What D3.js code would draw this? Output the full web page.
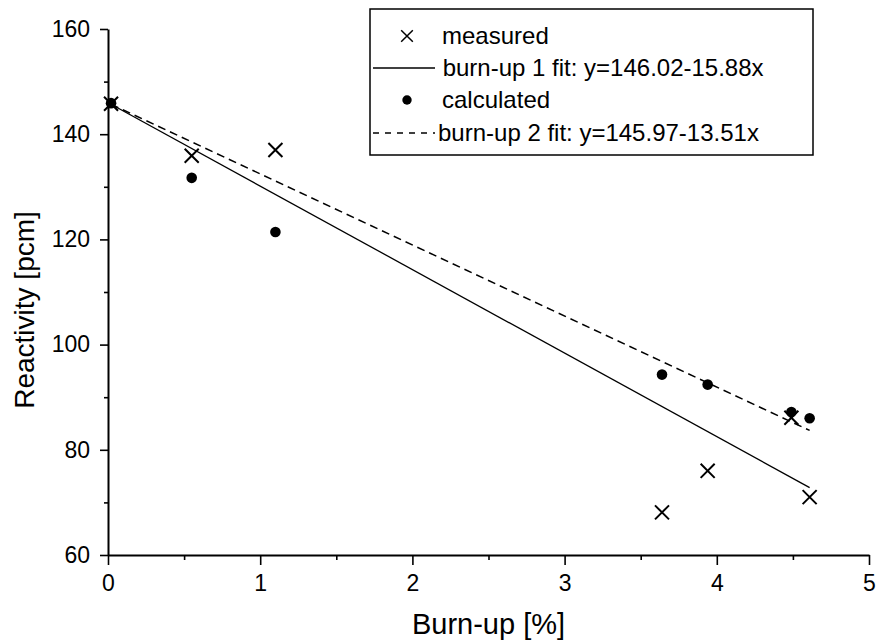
<!DOCTYPE html>
<html lang="en">
<head>
<meta charset="UTF-8">
<script src="https://d3js.org/d3.v7.min.js"></script>
<style>
  body { margin: 0; background: #fff; }
  text { font-family: "Liberation Sans", Arial, sans-serif; fill: #000; }
</style>
</head>
<body>
<div id="chart"></div>
<script>
// data
var burnup     = [0.02, 0.55, 1.10, 3.64, 3.94, 4.49, 4.61];
var measured   = [145.8, 135.9, 137.0, 68.1, 76.0, 86.1, 71.0];
var calculated = [145.9, 131.7, 121.4, 94.3, 92.4, 87.2, 86.0];

var xTicks = [0, 1, 2, 3, 4, 5];
var yTicks = [60, 80, 100, 120, 140, 160];

// fit lines: [intercept, slope]
var fit1 = [146.02, -15.88];
var fit2 = [145.97, -13.51];

var legendLabels = ["measured", " burn-up 1 fit: y=146.02-15.88x", "calculated", "burn-up 2 fit: y=145.97-13.51x"];

var W = 877, H = 643;
var margin = {top: 29, right: 8, bottom: 88, left: 108};
var width = 869 - margin.left,
    height = 555 - margin.top;

var svg = d3.select("#chart").append("svg")
  .attr("width", W).attr("height", H);

var g = svg.append("g")
  .attr("transform", "translate(" + margin.left + "," + margin.top + ")");

var x = d3.scaleLinear().domain([0, 5]).range([0, width]);
var y = d3.scaleLinear().domain([60, 160]).range([height, 0]);

// axes
var xAxis = g.append("g")
  .attr("transform", "translate(0," + height + ")")
  .call(d3.axisBottom(x).tickValues(xTicks).tickSize(10).tickPadding(10).tickSizeOuter(0).tickFormat(d3.format("d")));
var xMinor = g.append("g")
  .attr("transform", "translate(0," + height + ")")
  .call(d3.axisBottom(x).tickValues([0.5, 1.5, 2.5, 3.5, 4.5]).tickSize(5).tickSizeOuter(0).tickFormat(""));

var yAxis = g.append("g")
  .call(d3.axisLeft(y).tickValues(yTicks).tickSize(8).tickPadding(10).tickSizeOuter(0));
var yMinor = g.append("g")
  .call(d3.axisLeft(y).tickValues([70, 90, 110, 130, 150]).tickSize(4).tickSizeOuter(0).tickFormat(""));

[xAxis, xMinor, yAxis, yMinor].forEach(function(a) {
  a.select(".domain").attr("stroke", "#000").attr("stroke-width", 2);
  a.selectAll(".tick line").attr("stroke", "#000").attr("stroke-width", 1.6);
  a.selectAll("text").attr("font-size", "23px").attr("font-family", "Liberation Sans, Arial, sans-serif");
});
xMinor.select(".domain").remove();
yMinor.select(".domain").remove();

// axis titles
g.append("text")
  .attr("x", width / 2).attr("y", 634 - margin.top)
  .attr("text-anchor", "middle")
  .attr("font-size", "29px")
  .text("Burn-up [%]");

g.append("text")
  .attr("transform", "translate(" + (34 - margin.left) + "," + (310 - margin.top) + ") rotate(-90)")
  .attr("text-anchor", "middle")
  .attr("font-size", "28px")
  .text("Reactivity [pcm]");

// fit lines
function fitLine(f) {
  var x0 = d3.min(burnup), x1 = d3.max(burnup);
  return [[x0, f[0] + f[1] * x0], [x1, f[0] + f[1] * x1]];
}
var line = d3.line().x(function(d) { return x(d[0]); }).y(function(d) { return y(d[1]); });

g.append("path").datum(fitLine(fit1))
  .attr("d", line).attr("fill", "none").attr("stroke", "#000").attr("stroke-width", 1.3);
g.append("path").datum(fitLine(fit2))
  .attr("d", line).attr("fill", "none").attr("stroke", "#000").attr("stroke-width", 1.5)
  .attr("stroke-dasharray", "8,5");

// calculated points
g.selectAll(".calc")
  .data(burnup.map(function(b, i) { return [b, calculated[i]]; }))
  .enter().append("circle")
    .attr("class", "calc")
    .attr("cx", function(d) { return x(d[0]); })
    .attr("cy", function(d) { return y(d[1]); })
    .attr("r", 5.3)
    .attr("fill", "#000");

// measured points
var cross = d3.symbol().type(d3.symbolX).size(130);
g.selectAll(".meas")
  .data(burnup.map(function(b, i) { return [b, measured[i]]; }))
  .enter().append("path")
    .attr("class", "meas")
    .attr("transform", function(d) { return "translate(" + x(d[0]) + "," + y(d[1]) + ")"; })
    .attr("d", cross)
    .attr("fill", "none")
    .attr("stroke", "#000")
    .attr("stroke-width", 2);

// legend
var lg = svg.append("g");
lg.append("rect")
  .attr("x", 370).attr("y", 9).attr("width", 443).attr("height", 146)
  .attr("fill", "#fff").attr("stroke", "#000").attr("stroke-width", 1.5);

var rowY = [36, 68, 100, 133];
lg.append("path")
  .attr("transform", "translate(407," + rowY[0] + ")")
  .attr("d", d3.symbol().type(d3.symbolX).size(90))
  .attr("fill", "none").attr("stroke", "#000").attr("stroke-width", 1.5);
lg.append("line")
  .attr("x1", 373).attr("x2", 435).attr("y1", rowY[1]).attr("y2", rowY[1])
  .attr("stroke", "#000").attr("stroke-width", 1.3);
lg.append("circle")
  .attr("cx", 407).attr("cy", rowY[2]).attr("r", 4.7).attr("fill", "#000");
lg.append("line")
  .attr("x1", 373).attr("x2", 435).attr("y1", rowY[3]).attr("y2", rowY[3])
  .attr("stroke", "#000").attr("stroke-width", 1.3).attr("stroke-dasharray", "6,6");

var textX = [442, 436, 442, 438];
lg.selectAll(".ltxt")
  .data(legendLabels)
  .enter().append("text")
    .attr("class", "ltxt")
    .attr("x", function(d, i) { return textX[i]; })
    .attr("y", function(d, i) { return rowY[i] + 8; })
    .attr("font-size", "24px")
    .attr("xml:space", "preserve")
    .style("white-space", "pre")
    .text(function(d) { return d; });
</script>
</body>
</html>
